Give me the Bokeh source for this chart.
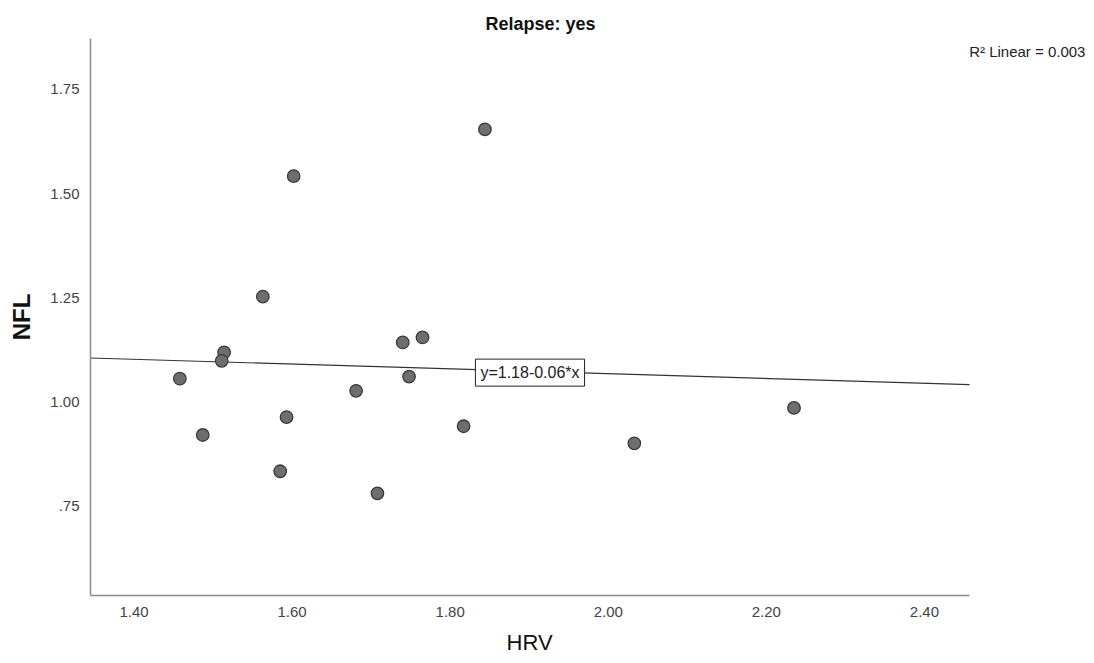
from bokeh.plotting import figure
from bokeh.models import FixedTicker, Label, Range1d, ColumnDataSource, Title
from bokeh.embed import file_html
from bokeh.resources import INLINE

# ---- data ----
hrv = [1.602, 1.563, 1.514, 1.511, 1.458, 1.487, 1.593, 1.585, 1.708,
       1.681, 1.740, 1.765, 1.748, 1.817, 1.844, 2.235, 2.033]
nfl = [1.542, 1.253, 1.119, 1.099, 1.056, 0.921, 0.964, 0.834, 0.781,
       1.027, 1.143, 1.155, 1.061, 0.942, 1.654, 0.986, 0.901]

fit_intercept = 1.183
fit_slope = -0.0575
fit_label = "y=1.18-0.06*x"
r2_label = "R\u00b2 Linear = 0.003"
title_text = "Relapse: yes"
x_label = "HRV"
y_label = "NFL"

x_ticks = [1.4, 1.6, 1.8, 2.0, 2.2, 2.4]
x_tick_labels = ["1.40", "1.60", "1.80", "2.00", "2.20", "2.40"]
y_ticks = [0.75, 1.0, 1.25, 1.5, 1.75]
y_tick_labels = [".75", "1.00", "1.25", "1.50", "1.75"]

# axis extent (drawn axis) and the page layout
x_lo, x_hi = 1.345, 2.457
y_lo, y_hi = 0.536, 1.872
W, H = 1094, 663
LEFT, TOP, BOTTOM = 90, 38, 67
AXIS_PX = 879                      # drawn x-axis length in pixels
px_per_unit = AXIS_PX / (x_hi - x_lo)
x_view_hi = x_lo + (W - LEFT) / px_per_unit   # frame extends to page edge for the R² note

FONT = "Liberation Sans"

p = figure(width=W, height=H,
           x_range=Range1d(x_lo, x_view_hi), y_range=Range1d(y_lo, y_hi),
           output_backend="svg", toolbar_location=None,
           min_border_left=LEFT, min_border_right=0,
           min_border_top=TOP, min_border_bottom=BOTTOM)

p.title.text = title_text
p.title.align = "left"
p.title.offset = 395
p.title.text_font = FONT
p.title.text_font_size = "18px"
p.title.text_font_style = "bold"
p.title.text_color = "#111111"

p.outline_line_color = None
p.grid.visible = False
p.background_fill_color = "white"
p.border_fill_color = "white"

for ax in (p.xaxis[0], p.yaxis[0]):
    ax.axis_line_color = "#8a8a8a"
    ax.axis_line_width = 1.5
    ax.major_tick_line_color = None
    ax.minor_tick_line_color = None
    ax.major_label_text_font = FONT
    ax.major_label_text_font_size = "15px"
    ax.major_label_text_color = "#444444"
    ax.axis_label_text_font = FONT
    ax.axis_label_text_color = "#111111"

p.xaxis.bounds = (x_lo, x_hi)
p.xaxis.ticker = FixedTicker(ticks=x_ticks)
p.xaxis.major_label_overrides = dict(zip(x_ticks, x_tick_labels))
p.yaxis.ticker = FixedTicker(ticks=y_ticks)
p.yaxis.major_label_overrides = dict(zip(y_ticks, y_tick_labels))
p.xaxis.major_label_standoff = 5
p.yaxis.major_label_standoff = 5

# x label centred under the drawn axis (not the widened frame)
p.add_layout(Title(text=x_label, align="left", offset=416, standoff=17,
                   text_font=FONT, text_font_size="22px",
                   text_font_style="normal", text_color="#111111"), "below")

p.yaxis.axis_label = y_label
p.yaxis.axis_label_text_font_size = "24px"
p.yaxis.axis_label_text_font_style = "bold"
p.yaxis.axis_label_standoff = 12

# regression line
fx = [x_lo, x_hi]
fy = [fit_intercept + fit_slope * v for v in fx]
p.line(fx, fy, line_color="#333333", line_width=1.2)

src = ColumnDataSource(dict(x=hrv, y=nfl))
p.scatter("x", "y", source=src, size=12.5, fill_color="#6e6e6e",
          line_color="#3a3a3a", line_width=1.3)

p.add_layout(Label(x=1.901, y=1.0706, text=fit_label,
                   text_align="center", text_baseline="middle",
                   text_font=FONT, text_font_size="16px", text_color="#222222",
                   background_fill_color="white",
                   border_line_color="#222222", border_line_width=1,
                   padding=5))

p.add_layout(Label(x=2.6037, y=1.841, text=r2_label,
                   text_align="right", text_baseline="middle",
                   text_font=FONT, text_font_size="15px", text_color="#222222"))

open("out.html", "w").write(file_html(p, INLINE))
